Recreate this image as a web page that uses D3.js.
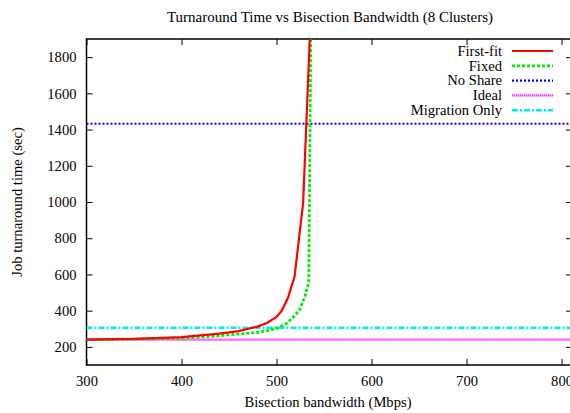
<!DOCTYPE html>
<html><head><meta charset="utf-8">
<script src="https://cdn.jsdelivr.net/npm/d3@7"></script>
<style>body{margin:0;background:#fff}svg{display:block}svg text{font-family:'Liberation Serif','Times New Roman','DejaVu Serif',serif !important}</style>
</head><body><svg id="c" width="570" height="413"></svg>
<script>
const title = "Turnaround Time vs Bisection Bandwidth (8 Clusters)";
const xLabel = "Bisection bandwidth (Mbps)";
const yLabel = "Job turnaround time (sec)";
const xTicks = [300, 400, 500, 600, 700, 800];
const yTicks = [200, 400, 600, 800, 1000, 1200, 1400, 1600, 1800];
const seriesNames = ["First-fit", "Fixed", "No Share", "Ideal", "Migration Only"];
const firstFitX = [300, 350, 400, 440, 460, 480, 490, 500, 505, 512, 519, 528, 535, 540];
const firstFitY = [240, 244, 254, 273, 287, 312, 332, 365, 395, 470, 588, 995, 1900, 2600];
const fixedX = [300, 400, 440, 480, 493, 500, 510, 517, 524, 530, 534, 536, 537];
const fixedY = [240, 247, 262, 280, 292, 302, 328, 360, 402, 480, 560, 1900, 2600];
const noShareX = [300, 811];
const noShareY = [1432, 1432];
const idealX = [300, 811];
const idealY = [240, 240];
const migrationX = [300, 811];
const migrationY = [306, 306];

const FONT = "'Liberation Serif','Times New Roman','DejaVu Serif',serif";
const svg = d3.select("#c").attr("font-family", FONT);
const L = 86.5, R = 572, T = 39, B = 365;
const x = d3.scaleLinear().domain([300, 811]).range([L, R]);
const y = d3.scaleLinear().domain([100, 1900]).range([B, T]);

svg.append("defs").append("clipPath").attr("id","clip")
  .append("rect").attr("x",L).attr("y",T).attr("width",R-L).attr("height",B-T);

svg.append("text").attr("x",330).attr("y",22).attr("text-anchor","middle")
  .attr("font-size",15).text(title);
svg.append("text").attr("x",328).attr("y",407).attr("text-anchor","middle")
  .attr("font-size",14.6).text(xLabel);
svg.append("text").attr("transform","translate(22,202) rotate(-90)").attr("text-anchor","middle")
  .attr("font-size",14.6).text(yLabel);

const xb = svg.append("g").attr("transform",`translate(0,${B})`)
  .call(d3.axisBottom(x).tickValues(xTicks).tickSize(-6).tickPadding(11).tickFormat(d3.format("d")));
const xt = svg.append("g").attr("transform",`translate(0,${T})`)
  .call(d3.axisTop(x).tickValues(xTicks).tickSize(-6).tickFormat(""));
const yl = svg.append("g").attr("transform",`translate(${L},0)`)
  .call(d3.axisLeft(y).tickValues(yTicks).tickSize(-6).tickPadding(10).tickFormat(d3.format("d")));
const yr = svg.append("g").attr("transform",`translate(${R},0)`)
  .call(d3.axisRight(y).tickValues(yTicks).tickSize(-6).tickFormat(""));
[xb,xt,yl,yr].forEach(g=>{
  g.attr("font-family",FONT).attr("font-size",14.6);
  g.select(".domain").remove();
  g.selectAll("line").attr("stroke","#000").attr("stroke-width",1);
  g.selectAll("text").attr("fill","#000");
});
svg.append("rect").attr("x",L).attr("y",T).attr("width",R-L).attr("height",B-T)
  .attr("fill","none").attr("stroke","#000").attr("stroke-width",1.5);

const styles = [
  {color:"#ff0000", w:2.2, dash:null},
  {color:"#00ee00", w:2.8, dash:"3,2"},
  {color:"#0000ee", w:2.2, dash:"2,2"},
  {color:"#ff33ff", w:2.4, dash:"1,1"},
  {color:"#00eeee", w:2.4, dash:"6,2,2,2"}
];
const data = [
  d3.zip(firstFitX, firstFitY),
  d3.zip(fixedX, fixedY),
  d3.zip(noShareX, noShareY),
  d3.zip(idealX, idealY),
  d3.zip(migrationX, migrationY)
];
const line = d3.line().x(d=>x(d[0])).y(d=>y(d[1]));
const plot = svg.append("g").attr("clip-path","url(#clip)");
[3,4,2,1,0].forEach(i=>{
  const s = styles[i];
  if(i===3){
    plot.append("path").datum(data[i]).attr("d",line).attr("fill","none")
      .attr("stroke","#ffaaff").attr("stroke-width",2.4);
  }
  plot.append("path").datum(data[i]).attr("d",line).attr("fill","none")
    .attr("stroke",s.color).attr("stroke-width",s.w)
    .attr("stroke-dasharray",s.dash);
});

const lg = svg.append("g");
seriesNames.forEach((n,i)=>{
  const yy = 51 + i*14.8;
  lg.append("text").attr("x",502).attr("y",yy+4.8).attr("text-anchor","end")
    .attr("font-size",14.6).text(n);
  if(i===3){
    lg.append("line").attr("x1",512).attr("x2",553).attr("y1",yy).attr("y2",yy)
      .attr("stroke","#ffaaff").attr("stroke-width",2.4);
  }
  lg.append("line").attr("x1",512).attr("x2",553).attr("y1",yy).attr("y2",yy)
    .attr("stroke",styles[i].color).attr("stroke-width",styles[i].w)
    .attr("stroke-dasharray",styles[i].dash);
});
</script></body></html>
